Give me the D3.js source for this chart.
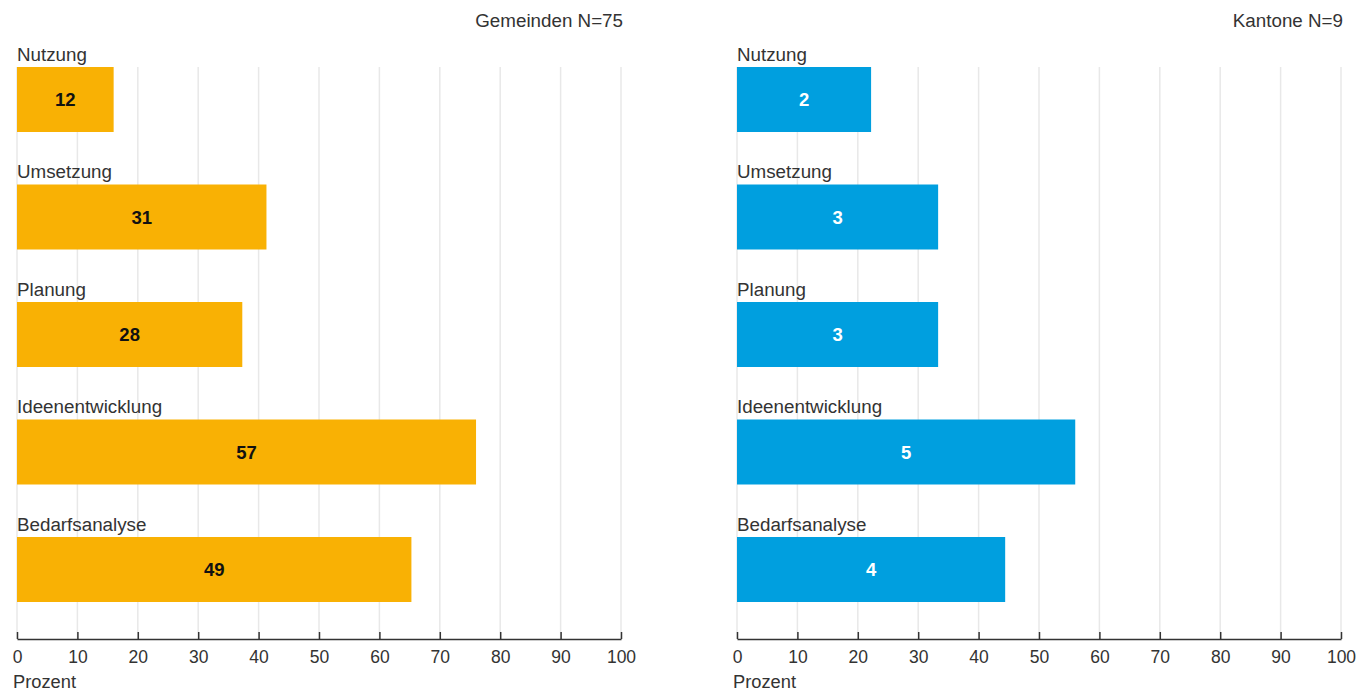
<!DOCTYPE html>
<html><head><meta charset="utf-8">
<script src="https://cdn.jsdelivr.net/npm/d3@7"></script>
<style>
body{margin:0;background:#fff;}
text{font-family:"Liberation Sans",Arial,sans-serif;}
</style></head>
<body><svg id="c" width="1357" height="695"></svg>
<script>
const categories = ["Nutzung","Umsetzung","Planung","Ideenentwicklung","Bedarfsanalyse"];
const gemeindenCounts = [12,31,28,57,49];
const gemeindenPercent = [16,41.3,37.3,76,65.3];
const kantoneCounts = [2,3,3,5,4];
const kantonePercent = [22.2,33.3,33.3,56,44.4];
const xTicks = [0,10,20,30,40,50,60,70,80,90,100];
const panels = [
  {title:"Gemeinden N=75", counts:gemeindenCounts, pct:gemeindenPercent, color:"#F9B104", textColor:"#111", x0:17, x1:621},
  {title:"Kantone N=9", counts:kantoneCounts, pct:kantonePercent, color:"#009FDF", textColor:"#fff", x0:737, x1:1341}
];
const svg = d3.select("#c");
const axisY = 639;
const y = d3.scaleBand().domain(categories).range([67, 602]).paddingInner(0.4468).paddingOuter(0);
panels.forEach(p=>{
  const g = svg.append("g");
  const x = d3.scaleLinear().domain([0,100]).range([p.x0,p.x1]);
  g.selectAll("line.grid").data(xTicks).join("line")
    .attr("x1",d=>x(d)).attr("x2",d=>x(d)).attr("y1",67).attr("y2",axisY)
    .attr("stroke","#e8e8e8").attr("stroke-width",1.5);
  const data = categories.map((c,i)=>({c, v:p.pct[i], n:p.counts[i]}));
  g.selectAll("rect").data(data).join("rect")
    .attr("x",x(0)).attr("y",d=>y(d.c)).attr("width",d=>x(d.v)-x(0)).attr("height",y.bandwidth())
    .attr("fill",p.color);
  g.selectAll("text.cat").data(data).join("text").attr("class","cat")
    .attr("x",x(0)).attr("y",d=>y(d.c)-6).text(d=>d.c)
    .attr("font-size",18.8).attr("fill","#333");
  g.selectAll("text.val").data(data).join("text").attr("class","val")
    .attr("x",d=>(x(0)+x(d.v))/2).attr("y",d=>y(d.c)+y.bandwidth()/2).attr("dy","0.36em")
    .attr("text-anchor","middle").attr("font-size",18.5).attr("font-weight","bold")
    .attr("fill",p.textColor).text(d=>d.n);
  const axis = d3.axisBottom(x).tickValues(xTicks).tickSize(0).tickPadding(12);
  const ag = g.append("g").attr("transform",`translate(0,${axisY})`).call(axis);
  ag.select(".domain").attr("stroke","#333").attr("stroke-width",1.5);
  ag.selectAll(".tick text").attr("font-size",17.5).attr("fill","#333")
    .attr("font-family","'Liberation Sans Narrow', 'Liberation Sans', Arial, sans-serif");
  ag.selectAll(".tick").append("line").attr("y1",-7).attr("y2",0).attr("stroke","#333").attr("stroke-width",1.5);
  g.append("text").attr("x",x(0)-4).attr("y",688).text("Prozent").attr("font-size",18.3).attr("fill","#333");
  g.append("text").attr("x",x(100)+2).attr("y",27).attr("text-anchor","end").text(p.title).attr("font-size",18.8).attr("fill","#333");
});
</script></body></html>
